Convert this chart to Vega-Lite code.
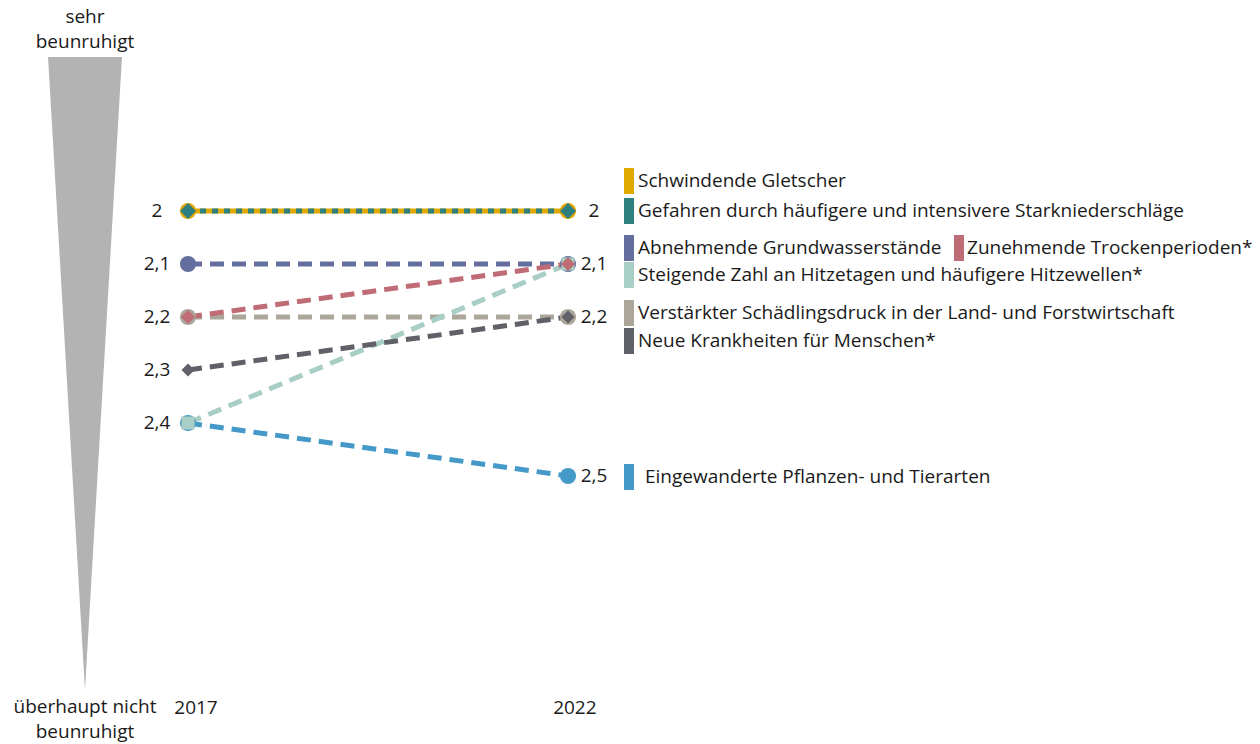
{
  "$schema": "https://vega.github.io/schema/vega-lite/v6.json",
  "width": 1260,
  "height": 744,
  "padding": 0,
  "autosize": {"type": "none"},
  "background": "white",
  "config": {"view": {"stroke": null}, "text": {"font": "Open Sans", "fontSize": 19, "color": "#1a1a1a"}},
  "datasets": {
    "series": [
      {"s": "Schwindende Gletscher", "year": 2017, "v": 2.0},
      {"s": "Schwindende Gletscher", "year": 2022, "v": 2.0},
      {"s": "Gefahren durch häufigere und intensivere Starkniederschläge", "year": 2017, "v": 2.0},
      {"s": "Gefahren durch häufigere und intensivere Starkniederschläge", "year": 2022, "v": 2.0},
      {"s": "Abnehmende Grundwasserstände", "year": 2017, "v": 2.1},
      {"s": "Abnehmende Grundwasserstände", "year": 2022, "v": 2.1},
      {"s": "Verstärkter Schädlingsdruck in der Land- und Forstwirtschaft", "year": 2017, "v": 2.2},
      {"s": "Verstärkter Schädlingsdruck in der Land- und Forstwirtschaft", "year": 2022, "v": 2.2},
      {"s": "Eingewanderte Pflanzen- und Tierarten", "year": 2017, "v": 2.4},
      {"s": "Eingewanderte Pflanzen- und Tierarten", "year": 2022, "v": 2.5},
      {"s": "Steigende Zahl an Hitzetagen und häufigere Hitzewellen*", "year": 2017, "v": 2.4},
      {"s": "Steigende Zahl an Hitzetagen und häufigere Hitzewellen*", "year": 2022, "v": 2.1},
      {"s": "Zunehmende Trockenperioden*", "year": 2017, "v": 2.2},
      {"s": "Zunehmende Trockenperioden*", "year": 2022, "v": 2.1},
      {"s": "Neue Krankheiten für Menschen*", "year": 2017, "v": 2.3},
      {"s": "Neue Krankheiten für Menschen*", "year": 2022, "v": 2.2}
    ],
    "legend": [
      {"s": "Schwindende Gletscher", "label": "Schwindende Gletscher", "lv": 1.9434, "rx": 2022.802, "tx": 2022.921},
      {"s": "Gefahren durch häufigere und intensivere Starkniederschläge", "label": "Gefahren durch häufigere und intensivere Starkniederschläge", "lv": 2.0, "rx": 2022.802, "tx": 2022.921},
      {"s": "Abnehmende Grundwasserstände", "label": "Abnehmende Grundwasserstände", "lv": 2.0698, "rx": 2022.802, "tx": 2022.921},
      {"s": "Zunehmende Trockenperioden*", "label": "Zunehmende Trockenperioden*", "lv": 2.0698, "rx": 2027.144, "tx": 2027.25},
      {"s": "Steigende Zahl an Hitzetagen und häufigere Hitzewellen*", "label": "Steigende Zahl an Hitzetagen und häufigere Hitzewellen*", "lv": 2.1208, "rx": 2022.802, "tx": 2022.921},
      {"s": "Verstärkter Schädlingsdruck in der Land- und Forstwirtschaft", "label": "Verstärkter Schädlingsdruck in der Land- und Forstwirtschaft", "lv": 2.1925, "rx": 2022.802, "tx": 2022.921},
      {"s": "Neue Krankheiten für Menschen*", "label": "Neue Krankheiten für Menschen*", "lv": 2.2453, "rx": 2022.802, "tx": 2022.921},
      {"s": "Eingewanderte Pflanzen- und Tierarten", "label": "Eingewanderte Pflanzen- und Tierarten", "lv": 2.5019, "rx": 2022.802, "tx": 2023.013}
    ],
    "valueLabels": [
      {"year": 2017, "v": 2.0, "t": "2"},
      {"year": 2017, "v": 2.1, "t": "2,1"},
      {"year": 2017, "v": 2.2, "t": "2,2"},
      {"year": 2017, "v": 2.3, "t": "2,3"},
      {"year": 2017, "v": 2.4, "t": "2,4"},
      {"year": 2022, "v": 2.0, "t": "2"},
      {"year": 2022, "v": 2.1, "t": "2,1"},
      {"year": 2022, "v": 2.2, "t": "2,2"},
      {"year": 2022, "v": 2.5, "t": "2,5"}
    ],
    "wedge": [
      {"wv": 1.7094, "wl": 2015.158, "wr": 2016.131},
      {"wv": 2.9038, "wl": 2015.644, "wr": 2015.644}
    ],
    "notes": [
      {"x": 2015.644, "v": 1.6340, "t": "sehr"},
      {"x": 2015.644, "v": 1.6812, "t": "beunruhigt"},
      {"x": 2015.644, "v": 2.9358, "t": "überhaupt nicht"},
      {"x": 2015.644, "v": 2.9830, "t": "beunruhigt"},
      {"x": 2017.105, "v": 2.9377, "t": "2017"},
      {"x": 2022.09, "v": 2.9377, "t": "2022"}
    ]
  },
  "resolve": {"scale": {"x": "shared", "y": "shared"}},
  "layer": [
    {
      "data": {"name": "wedge"},
      "mark": {"type": "area", "orient": "horizontal", "color": "#b3b3b3"},
      "encoding": {
        "y": {"field": "wv", "type": "quantitative", "scale": {"domain": [1.6019, 3.0057], "reverse": true, "nice": false, "zero": false}, "axis": null},
        "x": {"field": "wl", "type": "quantitative", "scale": {"domain": [2014.526, 2031.105], "nice": false, "zero": false}, "axis": null},
        "x2": {"field": "wr"}
      }
    },
    {
      "data": {"name": "series"},
      "mark": {"type": "line", "strokeWidth": 5},
      "encoding": {
        "x": {"field": "year", "type": "quantitative", "axis": null},
        "y": {"field": "v", "type": "quantitative", "axis": null},
        "detail": {"field": "s"},
        "color": {"field": "s", "type": "nominal", "legend": null, "scale": {
          "domain": ["Schwindende Gletscher", "Gefahren durch häufigere und intensivere Starkniederschläge", "Abnehmende Grundwasserstände", "Zunehmende Trockenperioden*", "Steigende Zahl an Hitzetagen und häufigere Hitzewellen*", "Verstärkter Schädlingsdruck in der Land- und Forstwirtschaft", "Neue Krankheiten für Menschen*", "Eingewanderte Pflanzen- und Tierarten"],
          "range": ["#e0a800", "#2e8080", "#636e9e", "#c06c76", "#a8cec5", "#aca69a", "#606068", "#4499c9"]}},
        "strokeDash": {"field": "s", "type": "nominal", "legend": null, "scale": {
          "domain": ["Schwindende Gletscher", "Gefahren durch häufigere und intensivere Starkniederschläge", "Abnehmende Grundwasserstände", "Zunehmende Trockenperioden*", "Steigende Zahl an Hitzetagen und häufigere Hitzewellen*", "Verstärkter Schädlingsdruck in der Land- und Forstwirtschaft", "Neue Krankheiten für Menschen*", "Eingewanderte Pflanzen- und Tierarten"],
          "range": [[1, 0], [6, 6], [14, 8], [14, 8], [14, 8], [14, 8], [14, 8], [14, 8]]}}
      }
    },
    {
      "data": {"name": "series"},
      "mark": {"type": "point", "filled": true, "opacity": 1},
      "encoding": {
        "x": {"field": "year", "type": "quantitative"},
        "y": {"field": "v", "type": "quantitative"},
        "color": {"field": "s", "type": "nominal", "legend": null},
        "shape": {"field": "s", "type": "nominal", "legend": null, "scale": {
          "domain": ["Schwindende Gletscher", "Gefahren durch häufigere und intensivere Starkniederschläge", "Abnehmende Grundwasserstände", "Zunehmende Trockenperioden*", "Steigende Zahl an Hitzetagen und häufigere Hitzewellen*", "Verstärkter Schädlingsdruck in der Land- und Forstwirtschaft", "Neue Krankheiten für Menschen*", "Eingewanderte Pflanzen- und Tierarten"],
          "range": ["circle", "diamond", "circle", "diamond", "square", "circle", "diamond", "circle"]}},
        "size": {"field": "s", "type": "nominal", "legend": null, "scale": {"type": "ordinal",
          "domain": ["Schwindende Gletscher", "Gefahren durch häufigere und intensivere Starkniederschläge", "Abnehmende Grundwasserstände", "Zunehmende Trockenperioden*", "Steigende Zahl an Hitzetagen und häufigere Hitzewellen*", "Verstärkter Schädlingsdruck in der Land- und Forstwirtschaft", "Neue Krankheiten für Menschen*", "Eingewanderte Pflanzen- und Tierarten"],
          "range": [260, 250, 260, 200, 170, 260, 170, 260]}}
      }
    },
    {
      "data": {"name": "valueLabels"},
      "transform": [{"filter": "datum.year == 2017"}],
      "mark": {"type": "text", "dx": -31, "align": "center", "baseline": "middle"},
      "encoding": {"x": {"field": "year", "type": "quantitative"}, "y": {"field": "v", "type": "quantitative"}, "text": {"field": "t"}}
    },
    {
      "data": {"name": "valueLabels"},
      "transform": [{"filter": "datum.year == 2022"}],
      "mark": {"type": "text", "dx": 26, "align": "center", "baseline": "middle"},
      "encoding": {"x": {"field": "year", "type": "quantitative"}, "y": {"field": "v", "type": "quantitative"}, "text": {"field": "t"}}
    },
    {
      "data": {"name": "legend"},
      "mark": {"type": "tick", "orient": "vertical", "thickness": 10, "size": 26, "opacity": 1},
      "encoding": {
        "x": {"field": "rx", "type": "quantitative"},
        "y": {"field": "lv", "type": "quantitative"},
        "color": {"field": "s", "type": "nominal", "legend": null}
      }
    },
    {
      "data": {"name": "legend"},
      "mark": {"type": "text", "align": "left", "baseline": "middle"},
      "encoding": {
        "x": {"field": "tx", "type": "quantitative"},
        "y": {"field": "lv", "type": "quantitative"},
        "text": {"field": "label"}
      }
    },
    {
      "data": {"name": "notes"},
      "mark": {"type": "text", "align": "center", "baseline": "middle"},
      "encoding": {
        "x": {"field": "x", "type": "quantitative"},
        "y": {"field": "v", "type": "quantitative"},
        "text": {"field": "t"}
      }
    }
  ]
}
